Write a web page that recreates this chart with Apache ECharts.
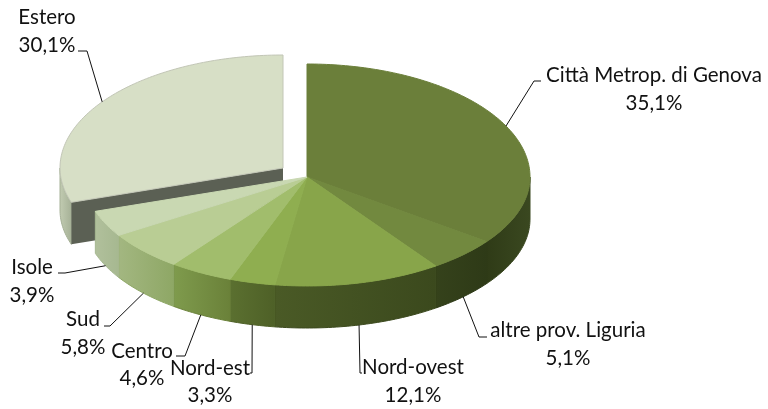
<!DOCTYPE html>
<html><head><meta charset="utf-8">
<style>html,body{margin:0;padding:0;background:#fff}#c{width:768px;height:409px}</style>
<script src="https://cdn.jsdelivr.net/npm/echarts@6/dist/echarts.min.js"></script>
</head><body><div id="c"></div>
<script>
const categories = ['Città Metrop. di Genova','altre prov. Liguria','Nord-ovest','Nord-est','Centro','Sud','Isole','Estero'];
const values = [35.1,5.1,12.1,3.3,4.6,5.8,3.9,30.1];
const valueLabels = ['35,1%','5,1%','12,1%','3,3%','4,6%','5,8%','3,9%','30,1%'];

const topColors = ['#6b7f3a','#72893f','#88a54a','#8fae50','#a1bd6c','#b9cd94','#c9d8b2','#d7dfc6'];
const sideColors = [
  ['#2f3b17','#3a4820'],['#35421b','#2e3a17'],['#4a5a26','#3b491d'],['#5b7030','#4e6027'],
  ['#7f9b4d','#6a8139'],['#a3b781','#8ea765'],['#b1c09c','#a6b890'],['#c2ccb2','#a5b096']
];
const explodeOffset = [0,0,0,0,0,0,0,1];
const labelCenters = [[654,75,103],[568,330,358],[413,367,395],[210,368,395],[142,351,378],[83,319,347],[32,267,295],[47,17,45]];
const leaderEnds = [
  [[534,81],[541,81]],[[479,337],[487,337]],[[360,373],[362,373]],[[252,373],[250,373]],
  [[185,356],[176,356]],[[110,326],[104,326]],[[65,273],[58,273]],[[87,51],[78,51]]
];

const cx=307, cy=177, rx=223, ryUp=113, ryDown=109, depth=42, offX=-24, offY=-9;
const FONT='Lato';
const total = values.reduce((a,b)=>a+b,0);
function pt(ox,oy,deg){
  const r=deg*Math.PI/180, c=Math.cos(r);
  return [ox+rx*Math.sin(r), oy-(c>0?ryUp:ryDown)*c];
}
function arc(ox,oy,a,b){
  const out=[], n=Math.max(2,Math.ceil(Math.abs(b-a)));
  for(let i=0;i<=n;i++) out.push(pt(ox,oy,a+(b-a)*i/n));
  return out;
}
function renderItem(params,api){
  const i=params.dataIndex, v=api.value(0);
  let sum=0; for(let k=0;k<i;k++) sum+=values[k];
  const a=sum/total*360, b=(sum+v)/total*360, mid=(a+b)/2;
  const ex=explodeOffset[i];
  const ox=cx+ex*offX, oy=cy+ex*offY;
  const base=ex?0:4;
  const children=[];
  const s=Math.max(a,90), e=Math.min(b,270);
  if(e>s){
    const upper=arc(ox,oy,s,e), lower=upper.map(p=>[p[0],p[1]+depth]).reverse();
    children.push({type:'polygon',z2:base+1,shape:{points:upper.concat(lower)},
      style:{fill:new echarts.graphic.LinearGradient(0,0,1,0,[{offset:0,color:sideColors[i][0]},{offset:1,color:sideColors[i][1]}]),
             stroke:sideColors[i][1],lineWidth:1}});
  }
  if(ex){
    const p=pt(ox,oy,a);
    children.push({type:'polygon',z2:2,shape:{points:[[ox,oy],p,[p[0],p[1]+depth],[ox,oy+depth]]},
      style:{fill:'#5b6054'}});
  }
  children.push({type:'polygon',z2:base+(ex?3:2),shape:{points:[[ox,oy]].concat(arc(ox,oy,a,b))},
    style:{fill:topColors[i],stroke:ex?'#c2c6b6':topColors[i],lineWidth:1}});
  const edge=pt(ox,oy,mid);
  if(mid>90&&mid<270) edge[1]+=depth;
  children.push({type:'polyline',z2:8,shape:{points:[edge].concat(leaderEnds[i])},
    style:{fill:null,stroke:'#111',lineWidth:1}});
  const lc=labelCenters[i];
  [[categories[i],lc[1]],[valueLabels[i],lc[2]]].forEach(t=>{
    children.push({type:'text',z2:9,style:{text:t[0],x:lc[0],y:t[1],align:'center',verticalAlign:'middle',
      fill:'#111',font:'20.5px '+FONT}});
  });
  return {type:'group',children};
}
const chart=echarts.init(document.getElementById('c'),null,{renderer:'canvas'});
chart.setOption({
  animation:false,
  backgroundColor:'#fff',
  series:[{type:'custom',coordinateSystem:'none',renderItem,
    data:categories.map((c,i)=>({value:[values[i]],name:c})),
    silent:true
  }]
});
</script></body></html>
